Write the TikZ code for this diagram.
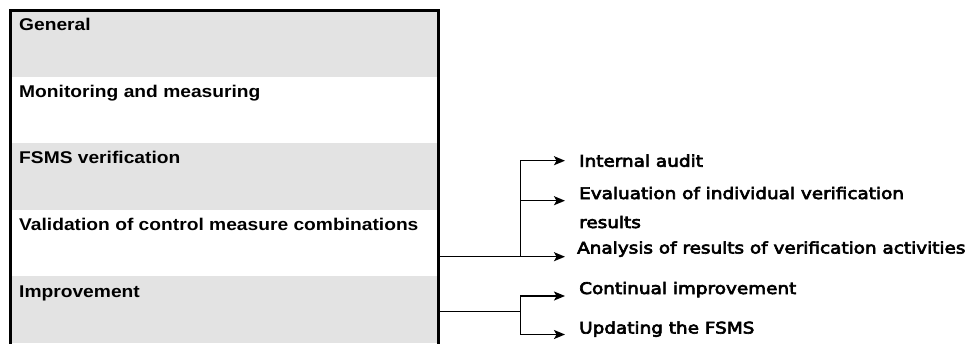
\documentclass[tikz,border=0pt]{standalone}
\usepackage{fontspec}
\usepackage{xcolor}
\usetikzlibrary{arrows.meta}
\newfontfamily\rowfont{Liberation Sans}[FakeStretch=1.13]
\newfontfamily\itemfont{DejaVu Sans}[FakeStretch=1.15, FakeBold=4]
\definecolor{rowgray}{RGB}{227,227,227}

\begin{document}
\begin{tikzpicture}[x=1pt,y=-1pt,
  row/.style={anchor=base west, inner sep=0pt, font=\rowfont\bfseries\fontsize{17}{20}\selectfont},
  item/.style={anchor=base west, inner sep=0pt, font=\itemfont\fontsize{16}{19}\selectfont},
  link/.style={line width=1.5pt},
  tip/.style={link, -{Stealth[length=11pt,width=9pt,inset=2.5pt]}}]
\useasboundingbox (0,0) rectangle (970,343);

% Faixas cinzentas alternadas
\foreach \i in {0,2,4}
  \fill[rowgray] (10,{10+66.6*\i}) rectangle (438.5,{10+66.6*(\i+1)});

% Títulos das faixas
\foreach \name/\txt [count=\i from 0] in {general/General, monitor/Monitoring and measuring,
    verif/FSMS verification, valid/Validation of control measure combinations, improve/Improvement}
  \node[row] (\name) at (19,{30.7+66.6*\i}) {\txt};

% Moldura
\draw[line width=3pt] (10,346) -- (10,10) -- (438.5,10) -- (438.5,346);

% Itens à direita
\node[item] (audit) at (579,166.7) {Internal audit};
\node[item] (evalone) at (579,199) {Evaluation of individual verification};
\node[item] (evaltwo) at (579,228) {results};
\node[item] (analysis) at (577,253.5) {Analysis of results of verification activities};
\node[item] (continual) at (579,294) {Continual improvement};
\node[item] (update) at (579,333.5) {Updating the FSMS};

% Pontos de ligação
\coordinate (valout) at (438.5,256.7);
\coordinate (impout) at (438.5,311.7);
\coordinate (forkv) at (520.7,256.7);
\coordinate (forki) at (520.7,311.7);
\coordinate (toaudit) at (565,160.7);
\coordinate (toeval) at (565,200.7);
\coordinate (toanalysis) at (565,256.7);
\coordinate (tocont) at (565,296);
\coordinate (toupdate) at (565,334.5);

% Setas da verificação
\draw[tip] (valout) -- (toanalysis);
\draw[tip] (forkv) |- (toaudit);
\draw[tip] (forkv |- toeval) -- (toeval);

% Setas da melhoria
\draw[link] (impout) -- (forki);
\draw[tip] (forki) |- (tocont);
\draw[tip] (forki) |- (toupdate);
\end{tikzpicture}
\end{document}
